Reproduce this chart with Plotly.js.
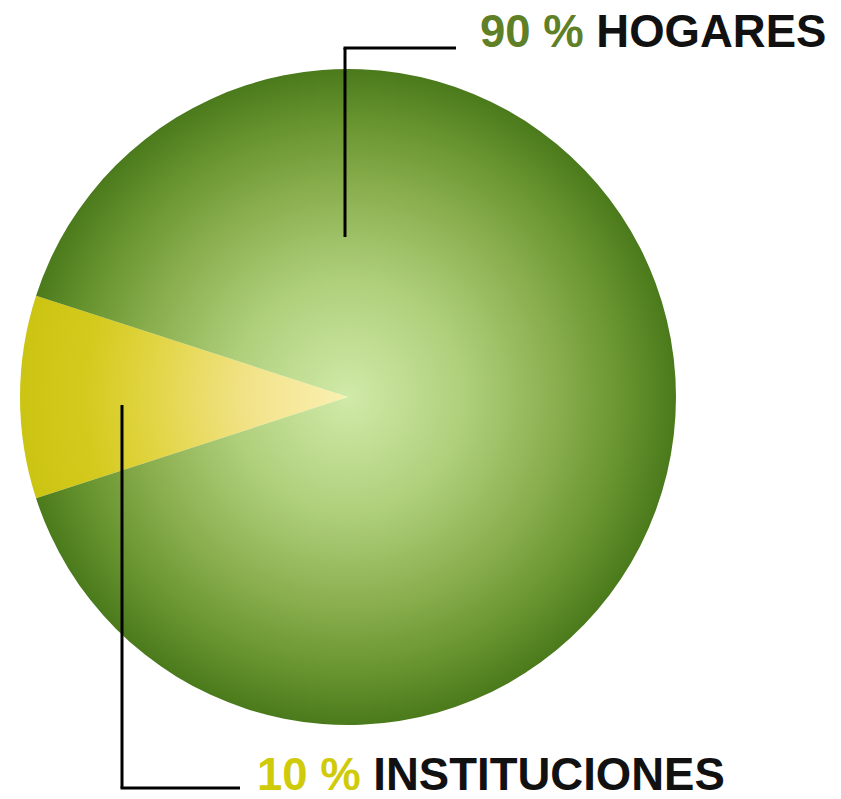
<!DOCTYPE html>
<html>
<head>
<meta charset="utf-8">
<script src="https://cdn.plot.ly/plotly-3.0.1.min.js"></script>
<style>html,body{margin:0;padding:0;background:#fff;}#chart{width:841px;height:799px;}</style>
</head>
<body>
<div id="chart"></div>
<script>
// Data
const labels = ['INSTITUCIONES', 'HOGARES'];
const values = [10, 90];
const pctLabels = ['10 %', '90 %'];
const baseColors = ['#d6cc1c', '#5e8a28'];
const pctColors = ['#cfcb0a', '#5f8026'];

const trace = {
  type: 'pie',
  labels: labels,
  values: values,
  sort: false,
  direction: 'clockwise',
  rotation: 252,
  textinfo: 'none',
  hoverinfo: 'none',
  showlegend: false,
  marker: {colors: baseColors, line: {width: 0}},
  domain: {x: [20/841, 676/841], y: [1 - 725/799, 1 - 69/799]}
};

const font = {family: 'Liberation Sans, Arial, sans-serif', size: 45.5, color: '#111', weight: 'bold'};

const layout = {
  width: 841, height: 799,
  margin: {l: 0, r: 0, t: 0, b: 0},
  paper_bgcolor: '#ffffff',
  plot_bgcolor: '#ffffff',
  showlegend: false,
  shapes: [
    {type: 'line', xref: 'paper', yref: 'paper', x0: 345/841, x1: 345/841, y0: 1 - 237/799, y1: 1 - 48/799, line: {color: '#000', width: 3}},
    {type: 'line', xref: 'paper', yref: 'paper', x0: 343.5/841, x1: 456/841, y0: 1 - 48/799, y1: 1 - 48/799, line: {color: '#000', width: 3}},
    {type: 'line', xref: 'paper', yref: 'paper', x0: 122/841, x1: 122/841, y0: 1 - 405/799, y1: 1 - 788/799, line: {color: '#000', width: 3}},
    {type: 'line', xref: 'paper', yref: 'paper', x0: 120.5/841, x1: 240/841, y0: 1 - 788/799, y1: 1 - 788/799, line: {color: '#000', width: 3}}
  ],
  annotations: [
    {xref: 'paper', yref: 'paper', x: 478/841, y: 1 - 32/799, xanchor: 'left', yanchor: 'middle', showarrow: false,
     text: '<span style="color:' + pctColors[1] + '">' + pctLabels[1] + '</span> ' + labels[1], font: font},
    {xref: 'paper', yref: 'paper', x: 255/841, y: 1 - 774/799, xanchor: 'left', yanchor: 'middle', showarrow: false,
     text: '<span style="color:' + pctColors[0] + '">' + pctLabels[0] + '</span> ' + labels[0], font: font}
  ]
};

const gradStops = [
  [[0, '#faf0b2'], [0.3, '#f2e38a'], [0.6, '#e2d545'], [0.8, '#d4ca1e'], [1, '#ccc412']],
  [[0, '#d0eaa8'], [0.35, '#b0d07c'], [0.65, '#88ad4c'], [0.85, '#66932e'], [1, '#4b7a1c']]
];

Plotly.newPlot('chart', [trace], layout, {staticPlot: true, displayModeBar: false}).then(function (gd) {
  const paths = gd.querySelectorAll('.slice path.surface');
  if (!paths.length) return;
  let minX = Infinity, maxX = -Infinity, minY = Infinity, maxY = -Infinity;
  paths.forEach(function (p) {
    const b = p.getBBox();
    minX = Math.min(minX, b.x); maxX = Math.max(maxX, b.x + b.width);
    minY = Math.min(minY, b.y); maxY = Math.max(maxY, b.y + b.height);
  });
  const cx = (minX + maxX) / 2, cy = (minY + maxY) / 2;
  const r = Math.max(maxX - minX, maxY - minY) / 2;
  const svg = gd.querySelector('svg.main-svg');
  const ns = 'http://www.w3.org/2000/svg';
  const defs = document.createElementNS(ns, 'defs');
  svg.insertBefore(defs, svg.firstChild);
  paths.forEach(function (p, i) {
    const d = p.getAttribute('d');
    let pcx = cx, pcy = cy;
    const m = d.match(/L\s*([-\d.e]+)[ ,]([-\d.e]+)\s*Z?\s*$/i);
    if (m) { pcx = parseFloat(m[1]); pcy = parseFloat(m[2]); }
    const g = document.createElementNS(ns, 'radialGradient');
    g.setAttribute('id', 'pieGrad' + i);
    g.setAttribute('gradientUnits', 'userSpaceOnUse');
    g.setAttribute('cx', pcx); g.setAttribute('cy', pcy);
    g.setAttribute('fx', pcx); g.setAttribute('fy', pcy);
    g.setAttribute('r', r);
    const stops = gradStops[i % gradStops.length];
    stops.forEach(function (s) {
      const st = document.createElementNS(ns, 'stop');
      st.setAttribute('offset', s[0]);
      st.setAttribute('stop-color', s[1]);
      g.appendChild(st);
    });
    defs.appendChild(g);
    p.style.fill = 'url(#pieGrad' + i + ')';
  });
});
</script>
</body>
</html>
